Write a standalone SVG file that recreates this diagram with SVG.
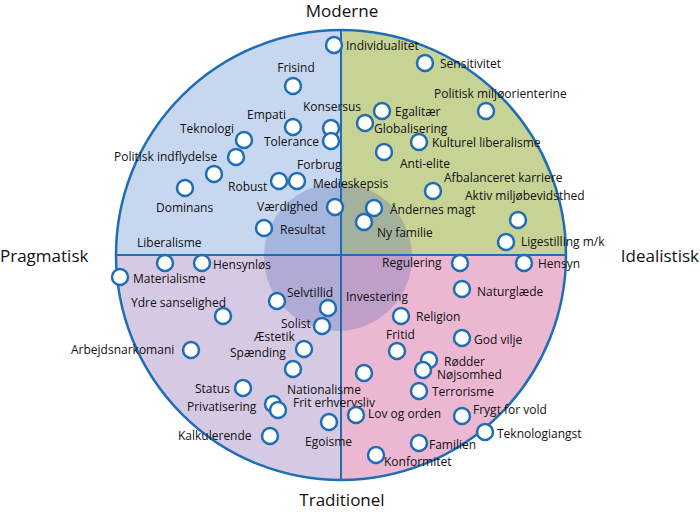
<svg xmlns="http://www.w3.org/2000/svg" width="700" height="514" viewBox="0 0 700 514">
<style>
text{font-family:"Open Sans","Liberation Sans",Arial,sans-serif;font-size:12px;fill:#111}
.ax{font-size:17px}
.n{fill:#fff;stroke:#1f6eb5;stroke-width:2.5}
.m{text-anchor:middle}.e{text-anchor:end}
</style>
<g id="background">
<path d="M341,255 L341,31 A225,225 0 0 0 116,255 Z" fill="#c7d7f0"/>
<path d="M341,255 L341,31 A225,225 0 0 1 566,255 Z" fill="#c7d295"/>
<path d="M341,255 L116,255 A225,225 0 0 0 341,480 Z" fill="#d6c9e3"/>
<path d="M341,255 L566,255 A225,225 0 0 1 341,480 Z" fill="#ecb7d1"/>
<circle cx="338" cy="257" r="74" fill="#4a5eb0" fill-opacity="0.28"/>
<circle cx="341" cy="255" r="225" fill="none" stroke="#1f6eb5" stroke-width="2.5"/>
<line x1="341" y1="31" x2="341" y2="480" stroke="#1f6eb5" stroke-width="2"/>
<line x1="116" y1="255" x2="566" y2="255" stroke="#1f6eb5" stroke-width="2"/>
</g>
<g id="axes">
<text class="ax m" x="342" y="17">Moderne</text>
<text class="ax m" x="342" y="506">Traditionel</text>
<text class="ax" x="0" y="262">Pragmatisk</text>
<text class="ax e" x="699" y="262">Idealistisk</text>
</g>
<g id="connectors"></g>
<g id="nodes">
<g id="n1"><circle class="n" cx="334" cy="45" r="8"/><text x="346" y="50">Individualitet</text></g>
<g id="n2"><circle class="n" cx="425" cy="63" r="8"/><text x="440" y="68">Sensitivitet</text></g>
<g id="n3"><circle class="n" cx="293" cy="86" r="8"/><text class="m" x="296" y="72">Frisind</text></g>
<g id="n4"><circle class="n" cx="486" cy="111" r="8"/><text x="434" y="98">Politisk miljøorienterine</text></g>
<g id="n5"><circle class="n" cx="331" cy="128" r="8"/><text x="303" y="111">Konsersus</text></g>
<g id="n6"><circle class="n" cx="293" cy="127" r="8"/><text x="247" y="119">Empati</text></g>
<g id="n7"><circle class="n" cx="382" cy="111" r="8"/><text x="395" y="116">Egalitær</text></g>
<g id="n8"><circle class="n" cx="365" cy="123" r="8"/><text x="374" y="133">Globalisering</text></g>
<g id="n9"><circle class="n" cx="244" cy="140" r="8"/><text x="180" y="133">Teknologi</text></g>
<g id="n10"><circle class="n" cx="331" cy="141" r="8"/><text x="264" y="146">Tolerance</text></g>
<g id="n11"><circle class="n" cx="419" cy="142" r="8"/><text x="432" y="147">Kulturel liberalisme</text></g>
<g id="n12"><circle class="n" cx="236" cy="157" r="8"/><text x="114" y="161">Politisk indflydelse</text></g>
<g id="n13"><circle class="n" cx="384" cy="152" r="8"/><text x="400" y="168">Anti-elite</text></g>
<g id="n14"><circle class="n" cx="297" cy="181" r="8"/><text x="297" y="169">Forbrug</text></g>
<g id="n15"><circle class="n" cx="279" cy="181" r="8"/><text x="228" y="191">Robust</text></g>
<g id="n16"><circle class="n" cx="214" cy="174" r="8"/></g>
<g id="n17"><text x="313" y="188">Medieskepsis</text></g>
<g id="n18"><circle class="n" cx="185" cy="188" r="8"/><text x="156" y="212">Dominans</text></g>
<g id="n19"><circle class="n" cx="433" cy="191" r="8"/><text x="444" y="182">Afbalanceret karriere</text></g>
<g id="n20"><circle class="n" cx="518" cy="220" r="8"/><text x="465" y="200">Aktiv miljøbevidsthed</text></g>
<g id="n21"><circle class="n" cx="335" cy="207" r="8"/><text x="257" y="211">Værdighed</text></g>
<g id="n22"><circle class="n" cx="374" cy="208" r="8"/><text x="390" y="214">Åndernes magt</text></g>
<g id="n23"><circle class="n" cx="264" cy="228" r="8"/><text x="280" y="234">Resultat</text></g>
<g id="n24"><circle class="n" cx="364" cy="222" r="8"/><text x="377" y="237">Ny familie</text></g>
<g id="n25"><circle class="n" cx="506" cy="242" r="8"/><text x="521" y="246">Ligestilling m/k</text></g>
<g id="n26"><circle class="n" cx="165" cy="263" r="8"/><text x="137" y="247">Liberalisme</text></g>
<g id="n27"><circle class="n" cx="202" cy="263" r="8"/><text x="213" y="269">Hensynløs</text></g>
<g id="n28"><circle class="n" cx="120" cy="277" r="8"/><text x="133" y="283">Materialisme</text></g>
<g id="n29"><circle class="n" cx="460" cy="263" r="8"/><text x="382" y="267">Regulering</text></g>
<g id="n30"><circle class="n" cx="524" cy="263" r="8"/><text x="538" y="268">Hensyn</text></g>
<g id="n31"><circle class="n" cx="462" cy="289" r="8"/><text x="477" y="296">Naturglæde</text></g>
<g id="n32"><circle class="n" cx="277" cy="301" r="8"/><text x="287" y="297">Selvtillid</text></g>
<g id="n33"><circle class="n" cx="328" cy="308" r="8"/><text x="346" y="301">Investering</text></g>
<g id="n34"><circle class="n" cx="223" cy="316" r="8"/><text x="131" y="307">Ydre sanselighed</text></g>
<g id="n35"><circle class="n" cx="401" cy="316" r="8"/><text x="416" y="321">Religion</text></g>
<g id="n36"><circle class="n" cx="322" cy="326" r="8"/><text x="281" y="328">Solist</text></g>
<g id="n37"><circle class="n" cx="304" cy="349" r="8"/><text x="254" y="341">Æstetik</text></g>
<g id="n38"><circle class="n" cx="397" cy="351" r="8"/><text x="386" y="339">Fritid</text></g>
<g id="n39"><circle class="n" cx="462" cy="338" r="8"/><text x="474" y="344">God vilje</text></g>
<g id="n40"><circle class="n" cx="293" cy="369" r="8"/><text x="230" y="357">Spænding</text></g>
<g id="n41"><circle class="n" cx="191" cy="350" r="8"/><text x="71" y="354">Arbejdsnarkomani</text></g>
<g id="n42"><circle class="n" cx="429" cy="360" r="8"/><text x="444" y="366">Rødder</text></g>
<g id="n43"><circle class="n" cx="423" cy="370" r="8"/><text x="437" y="379">Nøjsomhed</text></g>
<g id="n44"><circle class="n" cx="364" cy="373" r="8"/></g>
<g id="n45"><circle class="n" cx="419" cy="391" r="8"/><text x="432" y="396">Terrorisme</text></g>
<g id="n46"><circle class="n" cx="243" cy="388" r="8"/><text x="195" y="393">Status</text></g>
<g id="n47"><text x="287" y="394">Nationalisme</text></g>
<g id="n48"><circle class="n" cx="273" cy="404" r="8"/><circle class="n" cx="278" cy="410" r="8"/><text x="187" y="411">Privatisering</text></g>
<g id="n49"><text x="293" y="407">Frit erhvervsliv</text></g>
<g id="n50"><circle class="n" cx="356" cy="415" r="8"/><text x="368" y="418">Lov og orden</text></g>
<g id="n51"><circle class="n" cx="462" cy="416" r="8"/><text x="473" y="414">Frygt for vold</text></g>
<g id="n52"><circle class="n" cx="329" cy="422" r="8"/><text x="305" y="446">Egoisme</text></g>
<g id="n53"><circle class="n" cx="485" cy="432" r="8"/><text x="497" y="438">Teknologiangst</text></g>
<g id="n54"><circle class="n" cx="270" cy="436" r="8"/><text x="178" y="440">Kalkulerende</text></g>
<g id="n55"><circle class="n" cx="419" cy="443" r="8"/><text x="429" y="449">Familien</text></g>
<g id="n56"><circle class="n" cx="376" cy="455" r="8"/><text x="384" y="466">Konformitet</text></g>
</g>
</svg>
